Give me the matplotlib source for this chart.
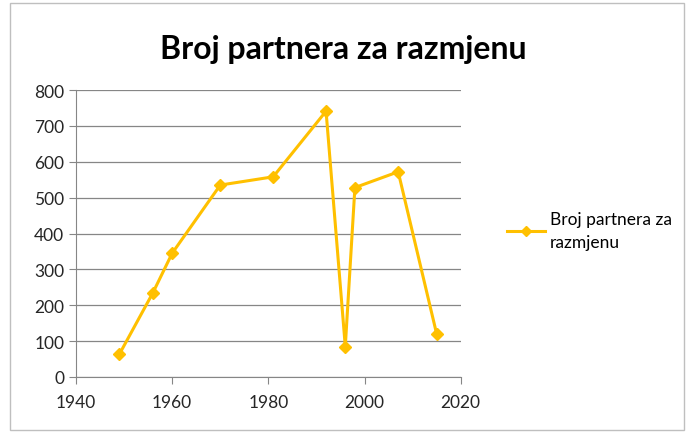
import matplotlib.pyplot as plt
from matplotlib.patches import Rectangle

years = [1949, 1956, 1960, 1970, 1981, 1992, 1996, 1998, 2007, 2015]
partners = [63, 235, 345, 535, 558, 741, 85, 528, 572, 120]
series_name = "Broj partnera za\nrazmjenu"
title = "Broj partnera za razmjenu"

gold = "#FFC000"
grid_col = "#868686"

plt.rcParams['font.family'] = ['Lato', 'DejaVu Sans']

fig = plt.figure(figsize=(6.86, 4.35), dpi=100)
ax = fig.add_axes([76/686, 57/435, 384.7/686, 287/435])

ax.plot(years, partners, color=gold, lw=2.2, marker='D', ms=6,
        markerfacecolor=gold, markeredgecolor=gold, label=series_name)

ax.set_xlim(1940, 2020)
ax.set_ylim(0, 800)
ax.set_xticks(range(1940, 2021, 20))
ax.set_yticks(range(0, 801, 100))
ax.yaxis.grid(True, color=grid_col, lw=0.9)
ax.set_axisbelow(True)
for s in ['top', 'right']:
    ax.spines[s].set_visible(False)
for s in ['left', 'bottom']:
    ax.spines[s].set_color(grid_col)
ax.tick_params(axis='both', colors=grid_col, length=5, labelsize=12.5, labelcolor='#262626')
ax.tick_params(axis='x', pad=7)

fig.text(0.5, 0.887, title, ha='center', va='center', fontsize=23, fontweight='bold')

leg = ax.legend(loc='center left', bbox_to_anchor=(1.08, 0.51), frameon=False,
                fontsize=12.5, handlelength=2.2, handletextpad=0.25, markerscale=0.8)
for t in leg.get_texts():
    t.set_linespacing(1.5)

fig.add_artist(Rectangle((10/686, 4/435), 674/686, 427/435, transform=fig.transFigure,
                         fill=False, edgecolor='#bfbfbf', lw=1))

fig.savefig('out.png', dpi=100)
